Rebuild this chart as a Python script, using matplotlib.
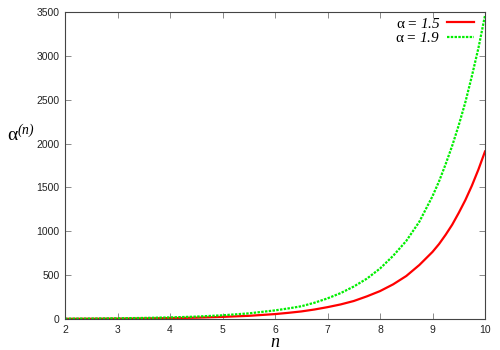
import matplotlib
matplotlib.use("Agg")
import matplotlib.pyplot as plt

n_vals = [2, 2.5, 3, 3.5, 4, 4.5, 5, 5.5, 6, 6.25, 6.5, 6.75, 7, 7.25, 7.5, 7.75,
          8, 8.25, 8.5, 8.75, 9, 9.125, 9.25, 9.375, 9.5, 9.625, 9.75, 9.875, 10]
red_vals = [1.8, 2.7, 4, 6.5, 10, 15, 24, 36, 56, 70, 86, 108, 135, 166, 205, 258,
            318, 395, 490, 616, 765, 855, 960, 1075, 1210, 1355, 1520, 1705, 1910]
green_vals = [3.5, 5, 8, 12, 18, 27, 42, 64, 98, 120, 145, 185, 235, 295, 370, 460,
              575, 720, 890, 1110, 1400, 1570, 1765, 1975, 2210, 2470, 2770, 3090, 3460]
labels = ["1.5", "1.9"]
xticks = [2, 3, 4, 5, 6, 7, 8, 9, 10]
yticks = [0, 500, 1000, 1500, 2000, 2500, 3000, 3500]

plt.rcParams['mathtext.fontset'] = 'custom'
plt.rcParams['mathtext.rm'] = 'Liberation Serif'
plt.rcParams['mathtext.it'] = 'Liberation Serif:italic'
# italic face used for digits/punctuation (mathtext's 'it' renders non-letters upright)
plt.rcParams['mathtext.bf'] = 'Liberation Serif:italic'

fig = plt.figure(figsize=(5, 3.5), dpi=100)
ax = fig.add_axes([0.13, 0.0886, 0.84, 0.877])

ax.plot(n_vals, red_vals, color='#ff0000', lw=1.6, label=f'α = $\\mathbf{{{labels[0]}}}$')
ax.plot(n_vals, green_vals, color='#00ee00', lw=1.6, linestyle=(0, (1.1, 0.6)),
        label=f'α = $\\mathbf{{{labels[1]}}}$')

ax.set_xlim(2, 10)
ax.set_ylim(0, 3500)
ax.set_xticks(xticks)
ax.set_yticks(yticks)
for lab in ax.get_xticklabels() + ax.get_yticklabels():
    lab.set_fontfamily('Liberation Sans')
    lab.set_fontsize(7.5)
ax.tick_params(direction='in', length=4, width=0.6, top=True, right=True,
               color='#777777', pad=4, labelcolor='#222222')
for s in ax.spines.values():
    s.set_color('#444444')
    s.set_linewidth(0.8)

ax.set_xlabel('$n$', fontsize=13, labelpad=-1)
ax.set_ylabel('α$^{\\mathbf{(n)}}$', fontsize=14, rotation=0, family='Liberation Serif')
ax.yaxis.set_label_coords(-0.105, 0.565)

leg = ax.legend(loc='upper right', bbox_to_anchor=(0.974, 0.985), frameon=False,
                markerfirst=False,
                prop={'family': 'Liberation Serif', 'size': 11},
                handlelength=1.8, handletextpad=0.4, labelspacing=0.05,
                borderaxespad=0.0, borderpad=0.0)

fig.savefig('out.png', dpi=100)
